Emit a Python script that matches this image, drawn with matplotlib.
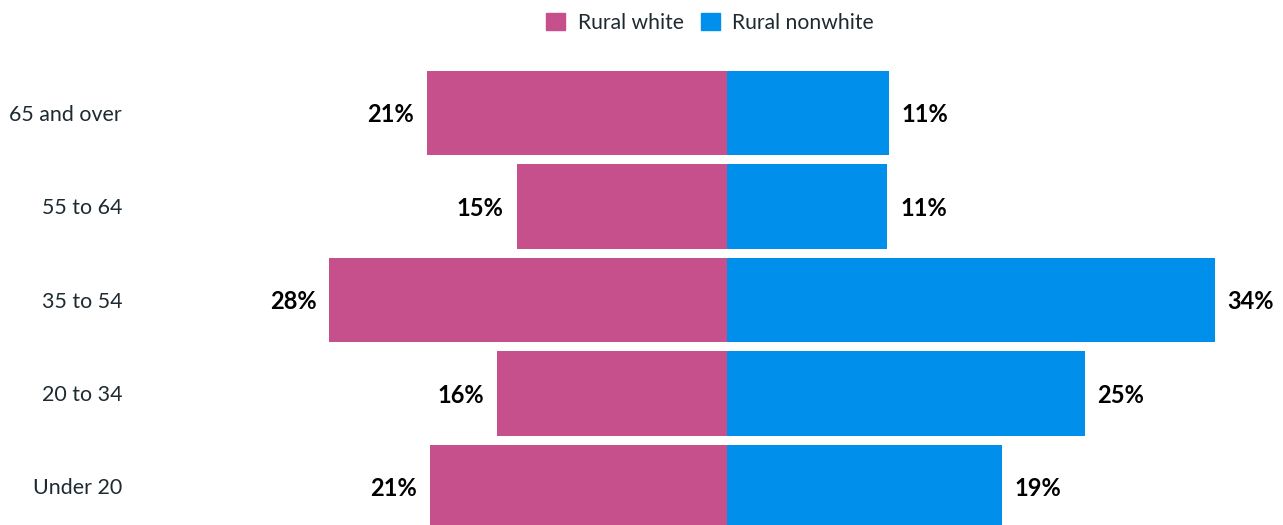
import matplotlib
matplotlib.use("Agg")
import matplotlib.pyplot as plt
from matplotlib.patches import Patch

categories = ["65 and over", "55 to 64", "35 to 54", "20 to 34", "Under 20"]
rural_white = [21.0, 14.7, 27.8, 16.1, 20.8]
rural_nonwhite = [11.3, 11.2, 34.1, 25.0, 19.2]
white_labels = ["21%", "15%", "28%", "16%", "21%"]
nonwhite_labels = ["11%", "11%", "34%", "25%", "19%"]

PINK = "#C6508B"
BLUE = "#018FEC"
TXT = "#1E2A30"

plt.rcParams['font.family'] = ['Lato', 'DejaVu Sans']

W, H = 1283, 525
fig = plt.figure(figsize=(W / 100, H / 100), dpi=100)
ax = fig.add_axes([0, 0, 1, 1])

pxper = 14.3   # px per percent
cx = 727
rowpx = 93.5
top = 113

ax.set_xlim(-cx / pxper, (W - cx) / pxper)
ax.set_ylim((H - top) / rowpx, -top / rowpx)
ax.axis('off')

y = list(range(len(categories)))
ax.barh(y, [-v for v in rural_white], height=0.9, color=PINK, edgecolor='none')
ax.barh(y, rural_nonwhite, height=0.9, color=BLUE, edgecolor='none')

gap = 13 / pxper
dy = 1.5 / rowpx
for i in y:
    ax.text(-rural_white[i] - gap, i + dy, white_labels[i], ha='right', va='center',
            fontsize=17, fontweight='bold', color='black')
    ax.text(rural_nonwhite[i] + gap, i + dy, nonwhite_labels[i], ha='left', va='center',
            fontsize=17, fontweight='bold', color='black')
    ax.text((122 - cx) / pxper, i + dy, categories[i], ha='right', va='center',
            fontsize=15.4, color=TXT)

handles = [Patch(color=PINK, label="Rural white"), Patch(color=BLUE, label="Rural nonwhite")]
leg = fig.legend(handles=handles, loc='upper center', bbox_to_anchor=(0.5535, 1.012), ncol=2,
                 frameon=False, fontsize=15.2, handlelength=0.9, handleheight=0.9,
                 handletextpad=0.6, columnspacing=0.8)
for t in leg.get_texts():
    t.set_color(TXT)

fig.savefig("out.png", dpi=100)
